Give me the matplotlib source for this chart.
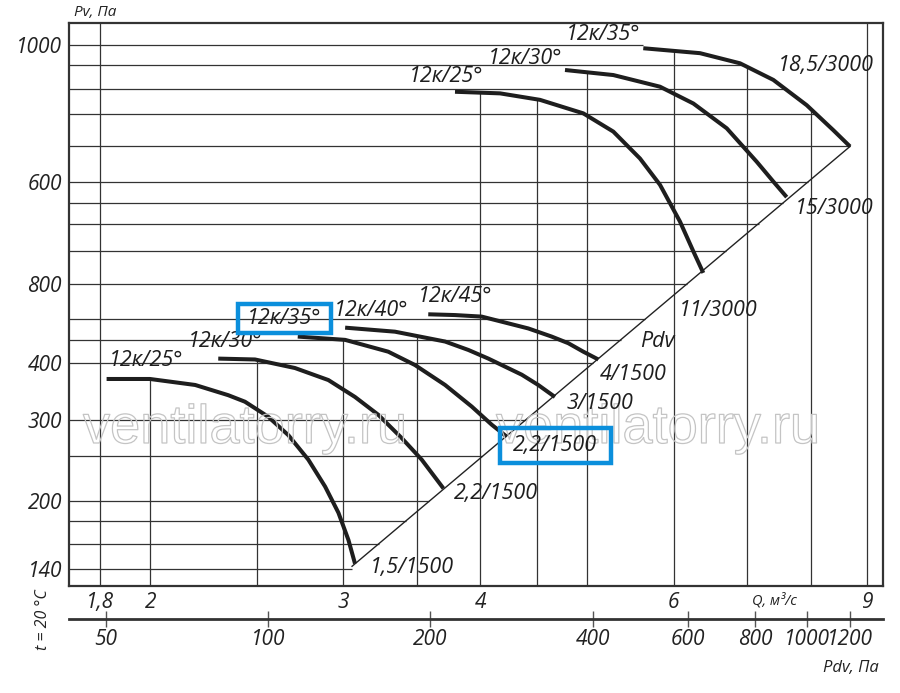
import numpy as np
import matplotlib
matplotlib.use('Agg')
import matplotlib.pyplot as plt
from matplotlib.patches import Rectangle
from matplotlib import patheffects as pe
from matplotlib.ticker import NullLocator

plt.rcParams['font.family'] = ['Open Sans', 'DejaVu Sans']
plt.rcParams['font.style'] = 'italic'

# axis values
Q_TICKS = [1.8, 2, 3, 4, 6, 9]
Q_TICK_LABELS = ['1,8', '2', '3', '4', '6', '9']
Q_GRID = [1.8, 2, 2.5, 3, 3.5, 4, 4.5, 5, 6, 7, 8, 9]
PV_TICKS = [140, 200, 300, 400, 500, 600, 1000]
PV_TICK_LABELS = ['140', '200', '300', '400', '800', '600', '1000']
PV_GRID = [140, 160, 180, 200, 250, 300, 400, 427, 453, 500, 530, 557, 578,
           600, 685, 773, 849, 928, 1000]
PDV_TICKS = [50, 100, 200, 400, 600, 800, 1000, 1200]

# the Pv axis of the original is not a clean log scale, so it is rebuilt piecewise
PV_SCALE_VAL = [128, 140, 200, 300, 400, 500, 600, 1000, 1086]
PV_SCALE_POS = np.array([0, 17, 85, 166, 223, 302, 404, 541, 563]) / 563.0

# 1500 rpm curves
q_25_1500 = [1.825, 1.999, 2.198, 2.356, 2.440, 2.562, 2.673, 2.787, 2.887, 2.969, 3.032, 3.074]
pv_25_1500 = [369, 369, 358, 340, 329, 305, 278, 246, 215, 188, 163, 144]
q_30_1500 = [2.307, 2.492, 2.710, 2.907, 3.074, 3.228, 3.391, 3.536, 3.701]
pv_30_1500 = [405, 404, 390, 367, 337, 308, 274, 246, 213]
q_35_1500 = [2.726, 3.011, 3.296, 3.486, 3.714, 3.928, 4.096, 4.227]
pv_35_1500 = [431, 427, 413, 396, 358, 321, 293, 276]
q_40_1500 = [3.011, 3.343, 3.714, 3.900, 4.067, 4.363, 4.516, 4.677]
pv_40_1500 = [442, 437, 425, 415, 405, 377, 358, 337]
q_45_1500 = [3.585, 3.792, 4.011, 4.423, 4.645, 4.810, 4.964, 5.123]
pv_45_1500 = [459, 458, 456, 441, 431, 423, 413, 404]

# 3000 rpm curves
q_25_3000 = [3.792, 4.168, 4.533, 4.964, 5.287, 5.591, 5.831, 6.081, 6.254, 6.386]
pv_25_3000 = [840, 835, 815, 775, 724, 655, 597, 559, 530, 510]
q_30_3000 = [4.777, 5.287, 5.831, 6.254, 6.708, 7.144, 7.397, 7.608]
pv_30_3000 = [911, 894, 856, 804, 733, 647, 601, 584]
q_35_3000 = [5.630, 6.342, 6.898, 7.397, 7.934, 8.389, 8.689]
pv_35_3000 = [988, 970, 934, 878, 799, 728, 685]

# Pdv line
q_pdv = [3.055, 8.689]
pv_pdv = [142, 685]

CURVES = [(q_25_1500, pv_25_1500), (q_30_1500, pv_30_1500), (q_35_1500, pv_35_1500),
          (q_40_1500, pv_40_1500), (q_45_1500, pv_45_1500),
          (q_25_3000, pv_25_3000), (q_30_3000, pv_30_3000), (q_35_3000, pv_35_3000)]

Q_LIM = (1.6865, 9.312)
PV_LIM = (128, 1086)
PDV_LIM = (42.7, 1382)

LOGV = np.log10(PV_SCALE_VAL)


def pv_fwd(p):
    p = np.clip(np.asarray(p, dtype=float), 1e-6, None)
    return np.interp(np.log10(p), LOGV, PV_SCALE_POS)


def pv_inv(u):
    return 10 ** np.interp(np.asarray(u, dtype=float), PV_SCALE_POS, LOGV)


def px(x, y):
    return x / 900.0, 1 - y / 693.0


fig = plt.figure(figsize=(9, 6.93), dpi=100)
ax = fig.add_axes([69 / 900, 1 - 586 / 693, 814 / 900, 563 / 693])
ax.set_xscale('log')
ax.set_yscale('function', functions=(pv_fwd, pv_inv))
ax.set_xlim(*Q_LIM)
ax.set_ylim(*PV_LIM)

grid_kw = dict(color='#333333', lw=0.9, zorder=1)

# vertical grid lines stop at the highest curve
for q in Q_GRID:
    tops = [np.interp(q, cq, cp) for cq, cp in CURVES if cq[0] <= q <= cq[-1]]
    top = max(tops) if tops else PV_LIM[1]
    ax.vlines(q, PV_LIM[0], top, **grid_kw)

# horizontal grid lines stop at the Pdv line or at the top curve
u1, u2 = pv_fwd(pv_pdv[0]), pv_fwd(pv_pdv[1])
lq1, lq2 = np.log10(q_pdv[0]), np.log10(q_pdv[1])
for p in PV_GRID:
    if p <= pv_pdv[1]:
        f = np.clip((pv_fwd(p) - u1) / (u2 - u1), 0, 1)
        qend = 10 ** (lq1 + f * (lq2 - lq1))
    else:
        qend = np.interp(p, pv_35_3000[::-1], q_35_3000[::-1])
    ax.hlines(p, Q_LIM[0], qend, **grid_kw)

ax.plot(q_pdv, pv_pdv, color='#222222', lw=1.0, zorder=3)
for cq, cp in CURVES:
    ax.plot(cq, cp, color='#1e1e1e', lw=2.9, solid_capstyle='butt',
            solid_joinstyle='round', zorder=4)

ax.set_xticks(Q_TICKS)
ax.set_xticklabels(Q_TICK_LABELS)
ax.xaxis.set_minor_locator(NullLocator())
ax.set_yticks(PV_TICKS)
ax.set_yticklabels(PV_TICK_LABELS)
ax.yaxis.set_minor_locator(NullLocator())
ax.tick_params(axis='both', length=0, labelsize=15, colors='#222222')
ax.tick_params(axis='x', pad=4)
ax.tick_params(axis='y', pad=5)
for s in ax.spines.values():
    s.set_linewidth(1.6)
    s.set_color('#333333')

# Pdv scale under the Q axis
ax2 = fig.add_axes([69 / 900, 1 - 619 / 693, 814 / 900, 0.0005])
ax2.set_facecolor('none')
ax2.set_xscale('log')
ax2.set_xlim(*PDV_LIM)
ax2.set_xticks(PDV_TICKS)
ax2.set_xticklabels([str(v) for v in PDV_TICKS])
ax2.xaxis.set_minor_locator(NullLocator())
ax2.set_yticks([])
for k in ['left', 'right', 'top']:
    ax2.spines[k].set_visible(False)
ax2.spines['bottom'].set_linewidth(2)
ax2.spines['bottom'].set_color('#333333')
ax2.tick_params(axis='x', direction='inout', length=11, width=1, color='#555555',
                pad=2, labelsize=15, labelcolor='#222222')

# watermark
for cx in [245, 658]:
    fig.text(*px(cx, 443), 'ventilatorry.ru', ha='center', va='baseline',
             fontsize=39, family='Liberation Sans', style='normal', color='none',
             path_effects=[pe.Stroke(linewidth=0.9, foreground='#c4c4c4')], zorder=2)

# curve labels
labels = [('12к/25°', 146, 361), ('12к/30°', 225, 342), ('12к/35°', 284, 319),
          ('12к/40°', 371, 311), ('12к/45°', 455, 297),
          ('1,5/1500', 412, 568), ('2,2/1500', 496, 494), ('2,2/1500', 555, 445),
          ('3/1500', 600, 404), ('4/1500', 633, 374), ('Pdv', 657, 342),
          ('11/3000', 718, 310), ('15/3000', 834, 208), ('18,5/3000', 826, 65),
          ('12к/25°', 446, 77), ('12к/30°', 525, 58), ('12к/35°', 603, 35)]
for s, x, y in labels:
    fig.text(*px(x, y), s, ha='center', va='center', fontsize=15.5, color='#1e1e1e', zorder=5)

# blue highlight boxes
for x0, y0, x1, y1 in [(238, 304, 331, 333), (499.5, 428, 610.5, 462.5)]:
    fx0, fy1 = px(x0, y0)
    fx1, fy0 = px(x1, y1)
    fig.patches.append(Rectangle((fx0, fy0), fx1 - fx0, fy1 - fy0, transform=fig.transFigure,
                                 fill=False, edgecolor='#0b8fdc', lw=3.2, zorder=6))

fig.text(*px(95, 13), 'Pv, Па', ha='center', va='center', fontsize=11, color='#222222')
fig.text(*px(774, 601), 'Q, м³/с', ha='center', va='center', fontsize=10.5, color='#222222')
fig.text(*px(851, 668), 'Pdv, Па', ha='center', va='center', fontsize=12, color='#222222')
fig.text(*px(43, 620), 't = 20 °C', ha='center', va='center', fontsize=11.5,
         rotation=90, color='#222222')

fig.savefig('out.png', dpi=100)
